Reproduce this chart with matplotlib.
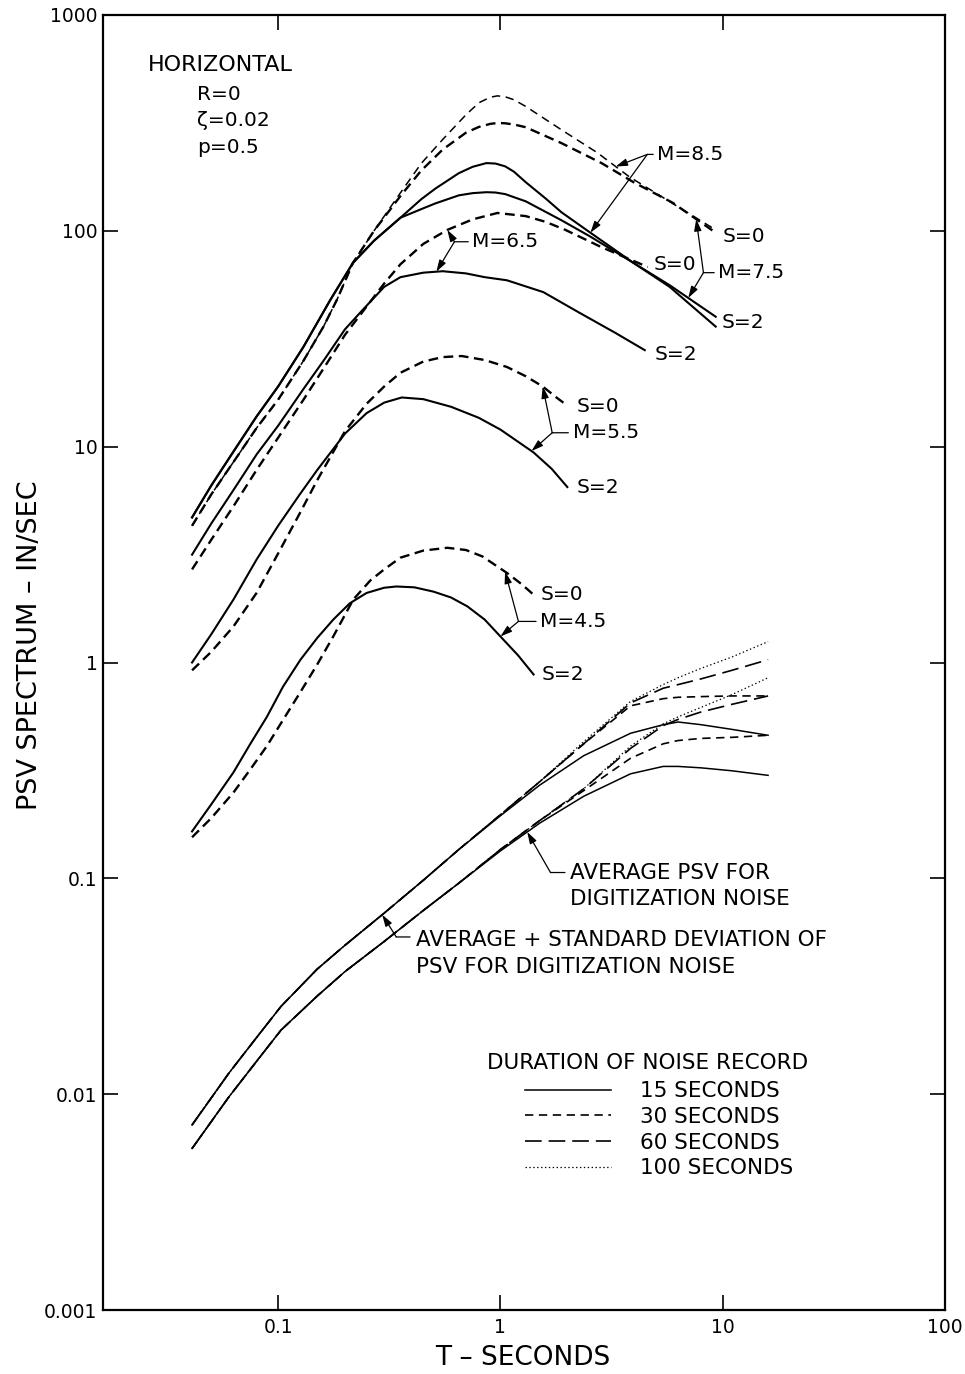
import numpy as np
import matplotlib.pyplot as plt

plt.rcParams['font.family'] = ['DejaVu Sans']
plt.rcParams['lines.scale_dashes'] = False

# ---- earthquake spectra (T in sec, PSV in in/sec) ----
t_m85_s0 = [0.041, 0.05, 0.063, 0.08, 0.1, 0.13, 0.16, 0.184, 0.217, 0.27, 0.355, 0.44, 0.55, 0.7, 0.8, 0.9, 0.97, 1.05, 1.15, 1.3, 1.88, 2.73, 3.8, 5.95, 9.3]
v_m85_s0 = [4.3, 6.0, 8.5, 12.2, 16.5, 25, 36, 48, 71, 100, 150, 205, 265, 345, 392, 416, 422, 418, 405, 377, 294, 230, 178, 134, 101]

t_m75_s0 = [0.041, 0.05, 0.063, 0.08, 0.1, 0.13, 0.16, 0.184, 0.217, 0.27, 0.355, 0.44, 0.55, 0.7, 0.8, 0.9, 0.97, 1.05, 1.15, 1.3, 1.88, 2.85, 3.97, 5.95, 9.3]
v_m75_s0 = [4.3, 6.0, 8.5, 12.2, 16.5, 25, 36, 48, 71, 100, 145, 190, 238, 285, 303, 313, 316, 315, 311, 302, 255, 206, 168, 135, 98]

t_m85_s2 = [0.041, 0.05, 0.063, 0.08, 0.1, 0.13, 0.172, 0.217, 0.27, 0.355, 0.44, 0.51, 0.65, 0.75, 0.865, 0.95, 1.05, 1.15, 1.3, 1.6, 1.88, 2.54, 3.97, 5.77, 9.3]
v_m85_s2 = [4.7, 6.6, 9.5, 13.8, 19, 29, 48, 71, 90, 115, 140, 157, 185, 198, 206, 205, 199, 188, 168, 141, 122, 98, 71, 55, 36]

t_m75_s2 = [0.041, 0.05, 0.063, 0.08, 0.1, 0.13, 0.172, 0.217, 0.27, 0.355, 0.44, 0.51, 0.65, 0.75, 0.865, 0.95, 1.05, 1.3, 1.88, 2.54, 3.97, 5.77, 9.3]
v_m75_s2 = [4.7, 6.6, 9.5, 13.8, 19, 29, 48, 71, 90, 115, 126, 134, 146, 149.5, 151, 150.5, 148, 137, 112, 94, 71, 56, 40]

t_m65_s0 = [0.041, 0.05, 0.063, 0.08, 0.1, 0.13, 0.16, 0.2, 0.26, 0.3, 0.355, 0.45, 0.577, 0.75, 0.97, 1.3, 1.6, 1.96, 2.85, 4.6]
v_m65_s0 = [2.7, 3.7, 5.3, 7.8, 11, 16.5, 23, 33, 47, 57, 70, 87, 101, 113, 121, 117, 110, 101, 84, 68]

t_m65_s2 = [0.041, 0.05, 0.063, 0.08, 0.1, 0.13, 0.16, 0.2, 0.24, 0.3, 0.355, 0.45, 0.55, 0.7, 0.85, 1.07, 1.56, 2.27, 3.3, 4.46]
v_m65_s2 = [3.16, 4.4, 6.3, 9.2, 12.5, 18.5, 25, 35, 43, 55, 61, 64, 65, 63.5, 61, 59, 52, 41.7, 33.6, 28]

t_m55_s0 = [0.041, 0.05, 0.063, 0.08, 0.1, 0.125, 0.15, 0.2, 0.25, 0.3, 0.355, 0.45, 0.55, 0.67, 0.85, 1.07, 1.3, 1.55, 1.8, 2.0]
v_m55_s0 = [0.92, 1.12, 1.47, 2.1, 3.2, 4.9, 7.0, 11.8, 15.8, 19, 22, 24.8, 26, 26.3, 25.2, 23.4, 21.2, 19, 16.8, 15.5]

t_m55_s2 = [0.041, 0.05, 0.063, 0.08, 0.1, 0.125, 0.15, 0.2, 0.25, 0.3, 0.36, 0.45, 0.6, 0.8, 1.0, 1.41, 1.7, 2.0]
v_m55_s2 = [1.0, 1.35, 1.96, 3.0, 4.3, 6.0, 7.8, 11.5, 14.3, 16.0, 16.9, 16.6, 15.3, 13.6, 12, 9.4, 7.9, 6.5]

t_m45_s0 = [0.041, 0.05, 0.063, 0.075, 0.089, 0.105, 0.126, 0.15, 0.177, 0.218, 0.26, 0.3, 0.355, 0.45, 0.577, 0.7, 0.83, 1.07, 1.25, 1.41]
v_m45_s0 = [0.155, 0.19, 0.25, 0.32, 0.41, 0.54, 0.73, 0.98, 1.32, 1.96, 2.4, 2.7, 3.06, 3.3, 3.4, 3.32, 3.1, 2.6, 2.3, 2.06]

t_m45_s2 = [0.041, 0.05, 0.063, 0.075, 0.089, 0.105, 0.126, 0.15, 0.177, 0.21, 0.25, 0.3, 0.34, 0.41, 0.5, 0.6, 0.71, 0.85, 1.0, 1.2, 1.41]
v_m45_s2 = [0.165, 0.22, 0.31, 0.42, 0.56, 0.77, 1.03, 1.3, 1.58, 1.88, 2.1, 2.22, 2.25, 2.23, 2.13, 2.0, 1.82, 1.58, 1.32, 1.08, 0.88]

# ---- digitization noise: average and average + std. deviation ----
t_noise = [0.041, 0.06, 0.08, 0.103, 0.15, 0.2, 0.3, 0.45, 0.65, 1.0, 1.5, 2.37, 3.85, 5.4, 6.3, 8.0, 11.0, 16.0]
std_15 = [0.0072, 0.0125, 0.0183, 0.0255, 0.038, 0.049, 0.069, 0.098, 0.136, 0.195, 0.27, 0.37, 0.47, 0.515, 0.53, 0.515, 0.49, 0.46]
std_30 = [0.0072, 0.0125, 0.0183, 0.0255, 0.038, 0.049, 0.069, 0.098, 0.136, 0.197, 0.28, 0.42, 0.63, 0.68, 0.69, 0.695, 0.70, 0.70]
std_60 = [0.0072, 0.0125, 0.0183, 0.0255, 0.038, 0.049, 0.069, 0.098, 0.136, 0.197, 0.28, 0.42, 0.65, 0.76, 0.79, 0.84, 0.92, 1.03]
std_100 = [0.0072, 0.0125, 0.0183, 0.0255, 0.038, 0.049, 0.069, 0.098, 0.136, 0.197, 0.28, 0.43, 0.66, 0.79, 0.85, 0.94, 1.06, 1.25]
avg_15 = [0.0056, 0.0097, 0.0142, 0.0198, 0.0285, 0.037, 0.051, 0.071, 0.095, 0.134, 0.18, 0.24, 0.305, 0.33, 0.33, 0.325, 0.315, 0.30]
avg_30 = [0.0056, 0.0097, 0.0142, 0.0198, 0.0285, 0.037, 0.051, 0.071, 0.095, 0.136, 0.185, 0.255, 0.36, 0.42, 0.435, 0.445, 0.45, 0.46]
avg_60 = [0.0056, 0.0097, 0.0142, 0.0198, 0.0285, 0.037, 0.051, 0.071, 0.095, 0.136, 0.185, 0.26, 0.40, 0.51, 0.545, 0.59, 0.64, 0.70]
avg_100 = [0.0056, 0.0097, 0.0142, 0.0198, 0.0285, 0.037, 0.051, 0.071, 0.095, 0.136, 0.185, 0.26, 0.41, 0.52, 0.56, 0.62, 0.71, 0.85]

durations = ['15 SECONDS', '30 SECONDS', '60 SECONDS', '100 SECONDS']
x_ticks = [0.1, 1, 10, 100]
x_ticklabels = ['0.1', '1', '10', '100']
y_ticks = [0.001, 0.01, 0.1, 1, 10, 100, 1000]
y_ticklabels = ['0.001', '0.01', '0.1', '1', '10', '100', '1000']


def on_curve(t, ts, vs):
    return 10 ** np.interp(np.log10(t), np.log10(ts), np.log10(vs))


fig = plt.figure(figsize=(9.65, 13.74), dpi=100)
ax = fig.add_axes([103 / 965, 1 - 1310 / 1374, 842 / 965, 1295 / 1374])
ax.set_xscale('log')
ax.set_yscale('log')
ax.set_xlim(0.0163, 100)
ax.set_ylim(0.001, 1000)

solid = dict(color='k', lw=1.5, ls='-')
dashed = dict(color='k', lw=1.7, ls=(0, (7, 4)))
thin_dashed = dict(color='k', lw=1.1, ls=(0, (6, 4)))

ax.plot(t_m85_s0, v_m85_s0, **thin_dashed)
ax.plot(t_m75_s0, v_m75_s0, **dashed)
ax.plot(t_m85_s2, v_m85_s2, **solid)
ax.plot(t_m75_s2, v_m75_s2, **solid)
ax.plot(t_m65_s0, v_m65_s0, **dashed)
ax.plot(t_m65_s2, v_m65_s2, **solid)
ax.plot(t_m55_s0, v_m55_s0, **dashed)
ax.plot(t_m55_s2, v_m55_s2, **solid)
ax.plot(t_m45_s0, v_m45_s0, **dashed)
ax.plot(t_m45_s2, v_m45_s2, **solid)

noise_styles = [dict(ls='-', lw=1.1), dict(ls=(0, (6, 4)), lw=1.2),
                dict(ls=(0, (12, 5)), lw=1.2), dict(ls=(0, (1, 1.8)), lw=0.9)]
handles = []
for vals, st in zip([std_15, std_30, std_60, std_100], noise_styles):
    h, = ax.plot(t_noise, vals, color='k', **st)
    handles.append(h)
for vals, st in zip([avg_15, avg_30, avg_60, avg_100], noise_styles):
    ax.plot(t_noise, vals, color='k', **st)

# axes styling
for sp in ax.spines.values():
    sp.set_linewidth(1.6)
ax.set_xticks(x_ticks)
ax.set_xticklabels(x_ticklabels)
ax.set_yticks(y_ticks)
ax.set_yticklabels(y_ticklabels)
ax.minorticks_off()
ax.tick_params(which='major', direction='in', length=11, width=1.2,
               top=True, right=True, labelsize=13.5, pad=6)
ax.tick_params(axis='y', pad=4)

fig.text(30 / 965, 1 - 645 / 1374, 'PSV SPECTRUM – IN/SEC', rotation=90,
         ha='center', va='center', fontsize=19.5)
fig.text(523 / 965, 1 - 1358 / 1374, 'T – SECONDS', ha='center', va='center', fontsize=19)

# parameter block
ax.text(0.0534, 0.9568, 'HORIZONTAL', transform=ax.transAxes, fontsize=16, va='baseline')
ax.text(0.1116, 0.9344, 'R=0', transform=ax.transAxes, fontsize=14.5, va='baseline')
ax.text(0.1116, 0.9143, 'ζ=0.02', transform=ax.transAxes, fontsize=14.5, va='baseline')
ax.text(0.1116, 0.8934, 'p=0.5', transform=ax.transAxes, fontsize=14.5, va='baseline')

arrow = dict(arrowstyle='-|>,head_length=0.7,head_width=0.22', color='k', lw=0.9,
             shrinkA=0, shrinkB=0)
leader = dict(arrowstyle='-', color='k', lw=0.9, shrinkA=1, shrinkB=0)


def mag_label(text, bracket, text_t, hi, lo):
    ax.annotate(text, xy=bracket, xytext=(text_t, bracket[1]), fontsize=14.5,
                va='center', ha='left', arrowprops=leader)
    for t, ts, vs in (hi, lo):
        ax.annotate('', xy=(t, on_curve(t, ts, vs)), xytext=bracket, arrowprops=arrow)


mag_label('M=8.5', (4.58, 226), 5.08, (3.3, t_m85_s0, v_m85_s0), (2.54, t_m85_s2, v_m85_s2))
mag_label('M=7.5', (8.19, 64), 9.56, (7.6, t_m75_s0, v_m75_s0), (7.0, t_m75_s2, v_m75_s2))
mag_label('M=6.5', (0.621, 89), 0.748, (0.577, t_m65_s0, v_m65_s0), (0.515, t_m65_s2, v_m65_s2))
mag_label('M=5.5', (1.71, 11.6), 2.11, (1.55, t_m55_s0, v_m55_s0), (1.38, t_m55_s2, v_m55_s2))
mag_label('M=4.5', (1.205, 1.55), 1.51, (1.05, t_m45_s0, v_m45_s0), (1.0, t_m45_s2, v_m45_s2))

for t, v, s in [(10.0, 94, 'S=0'), (9.9, 37.6, 'S=2'), (4.88, 70, 'S=0'), (4.93, 26.8, 'S=2'),
                (2.2, 15.4, 'S=0'), (2.2, 6.47, 'S=2'), (1.51, 2.07, 'S=0'), (1.53, 0.88, 'S=2')]:
    ax.text(t, v, s, fontsize=14.5, va='center', ha='left')

# noise annotations
ax.text(2.06, 0.1064, 'AVERAGE PSV FOR', fontsize=15.5, va='center')
ax.text(2.06, 0.0798, 'DIGITIZATION NOISE', fontsize=15.5, va='center')
ax.annotate('', xy=(1.68, 0.1064), xytext=(1.98, 0.1064), arrowprops=leader)
ax.annotate('', xy=(1.32, on_curve(1.32, t_noise, avg_15)), xytext=(1.68, 0.1064), arrowprops=arrow)

ax.text(0.415, 0.052, 'AVERAGE + STANDARD DEVIATION OF', fontsize=15.5, va='center')
ax.text(0.415, 0.039, 'PSV FOR DIGITIZATION NOISE', fontsize=15.5, va='center')
ax.annotate('', xy=(0.34, 0.0535), xytext=(0.398, 0.0535), arrowprops=leader)
ax.annotate('', xy=(0.294, on_curve(0.294, t_noise, std_15)), xytext=(0.34, 0.0535), arrowprops=arrow)

# legend: title drawn as its own text so the entries sit where the original puts them
ax.text(0.647, 0.1907, 'DURATION OF NOISE RECORD', transform=ax.transAxes,
        fontsize=15.5, ha='center', va='center')
ax.legend(handles, durations, loc='upper left', bbox_to_anchor=(0.501, 0.1768),
          frameon=False, fontsize=15.5, handlelength=4.0, handletextpad=1.35,
          labelspacing=0.27, borderpad=0, borderaxespad=0)

fig.savefig('out.png', dpi=100)
